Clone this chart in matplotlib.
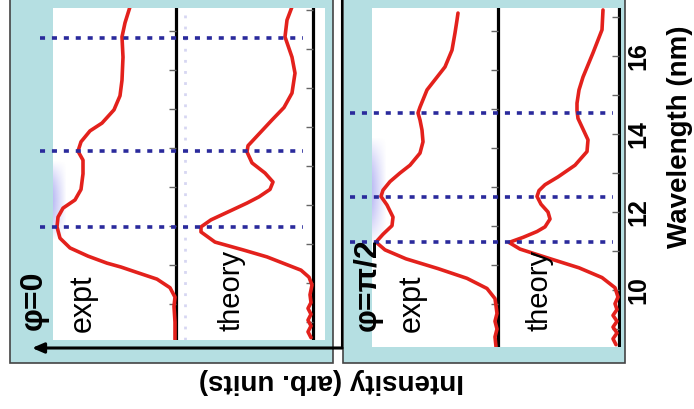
import numpy as np
import matplotlib
matplotlib.use('Agg')
import matplotlib.pyplot as plt
from matplotlib.patches import Rectangle

plt.rcParams['font.family'] = ['Liberation Sans', 'DejaVu Sans']

# phi = 0 panel (wavelength in nm, intensity in arb. units)
wl_expt0 = [8.55, 9.0, 9.4, 9.64, 9.88, 10.10, 10.28, 10.41, 10.51, 10.69, 10.90, 11.15,
            11.44, 11.69, 11.92, 12.13, 12.40, 12.80, 13.15, 13.38, 13.62, 13.90, 14.10,
            14.44, 14.80, 15.20, 15.79, 16.31, 16.67, 17.08]
int_expt0 = [0.01, 0.01, 0.02, 0.01, 0.06, 0.19, 0.40, 0.55, 0.69, 0.88, 1.06, 1.16,
             1.19, 1.18, 1.13, 1.01, 0.95, 0.93, 0.93, 0.98, 0.95, 0.86, 0.74,
             0.62, 0.56, 0.54, 0.53, 0.54, 0.51, 0.46]
wl_theory0 = [8.6, 8.75, 8.9, 9.05, 9.2, 9.35, 9.5, 9.7, 9.95, 10.15, 10.33, 10.51, 10.67,
              10.85, 11.05, 11.31, 11.44, 11.62, 11.87, 12.05, 12.21, 12.40, 12.59, 12.82,
              13.08, 13.36, 13.52, 13.85, 14.18, 14.50, 14.87, 15.38, 15.79, 16.31, 16.74,
              17.08]
int_theory0 = [0.02, 0.05, 0.02, 0.05, 0.02, 0.05, 0.02, 0.03, 0.01, 0.04, 0.12, 0.30, 0.46,
               0.70, 0.98, 1.12, 1.12, 1.02, 0.81, 0.66, 0.54, 0.43, 0.40, 0.48,
               0.61, 0.66, 0.65, 0.53, 0.41, 0.29, 0.21, 0.18, 0.21, 0.28, 0.26,
               0.21]
dips0 = [11.44, 13.38, 16.28]

# phi = pi/2 panel
wl_expt90 = [8.55, 8.8, 9.0, 9.2, 9.4, 9.6, 9.78, 10.04, 10.30, 10.55, 10.80, 11.03, 11.23,
             11.43, 11.65, 11.87, 12.18, 12.40, 12.56, 12.78, 13.0, 13.20, 13.51, 13.80,
             14.10, 14.36, 14.54, 14.69, 15.13, 15.72, 16.15, 16.59, 16.92, 17.10]
int_expt90 = [0.02, 0.03, 0.01, 0.03, 0.01, 0.02, 0.03, 0.11, 0.31, 0.60, 0.92, 1.13, 1.22,
              1.15, 1.06, 1.05, 1.11, 1.17, 1.15, 1.08, 0.98, 0.88, 0.78, 0.75,
              0.76, 0.78, 0.80, 0.78, 0.71, 0.53, 0.46, 0.43, 0.41, 0.40]
wl_theory90 = [8.6, 8.75, 8.9, 9.05, 9.2, 9.35, 9.5, 9.65, 9.82, 10.06, 10.32, 10.57, 10.82,
               11.05, 11.22, 11.35, 11.50, 11.62, 11.82, 12.0, 12.20, 12.40, 12.55, 12.70,
               12.90, 13.20, 13.55, 13.85, 14.18, 14.40, 14.60, 14.79, 15.13, 15.46, 16.08,
               16.67, 17.18]
int_theory90 = [0.03, 0.06, 0.02, 0.06, 0.02, 0.06, 0.02, 0.04, 0.01, 0.04, 0.17, 0.40, 0.71,
                0.99, 1.10, 0.96, 0.82, 0.74, 0.69, 0.71, 0.78, 0.82, 0.80, 0.74,
                0.61, 0.44, 0.32, 0.31, 0.37, 0.41, 0.42, 0.42, 0.40, 0.36, 0.26,
                0.17, 0.16]
dips90 = [11.23, 12.38, 14.54]

wl_labels = [10, 12, 14, 16]
theory_ticks = [9, 10, 11, 12, 13, 14, 15, 16, 17]
expt_ticks0 = [9.45, 10.45, 11.45, 12.45, 13.45, 14.45, 15.45, 16.45]
expt_ticks90 = [9.63, 10.63, 11.63, 12.63, 13.63, 14.63, 15.63, 16.63]

W, H = 694, 409
fig = plt.figure(figsize=(W / 100, H / 100), dpi=100)


def px_box(x0, y0, x1, y1):
    return [x0 / W, 1 - y1 / H, (x1 - x0) / W, (y1 - y0) / H]


def ftext(x, y, s, **kw):
    fig.text(x / W, 1 - y / H, s, ha='center', va='center', **kw)


# background: cyan frames and intensity arrow, in pixel units
bg = fig.add_axes([0, 0, 1, 1])
bg.set_xlim(0, W)
bg.set_ylim(H, 0)
bg.axis('off')
for x0, x1 in [(10, 333), (343, 625)]:
    bg.add_patch(Rectangle((x0, -5), x1 - x0, 368, fc='#b5dfe2', ec='#444444', lw=1.2))
bg.plot([342, 342], [0, 348], color='k', lw=1.5)
bg.annotate('', xy=(32, 348), xytext=(342, 348),
            arrowprops=dict(arrowstyle='-|>,head_length=0.7,head_width=0.3', color='k',
                            lw=2.2, shrinkA=0, shrinkB=0))

ax0 = fig.add_axes(px_box(53, 8, 325, 340))
ax1 = fig.add_axes(px_box(372, 8, 621, 347))


def haze(ax, extent):
    ny, nx = 40, 12
    img = np.zeros((ny, nx, 4))
    img[..., 0] = 0.50
    img[..., 1] = 0.50
    img[..., 2] = 0.92
    fx = np.linspace(1, 0, nx)[None, :]
    fy = np.sin(np.linspace(0, np.pi, ny))[:, None]
    img[..., 3] = 0.5 * fx * fy
    ax.imshow(img, extent=extent, transform=ax.transAxes, aspect='auto',
              interpolation='bilinear', zorder=1)


def draw_panel(ax, wl_e, i_e, wl_t, i_t, dips, offset, xlim, ylim, e_ticks, dash_span):
    for x in (0, offset):
        ax.axvline(x, color='k', lw=2.3, zorder=3)
    ax.hlines(theory_ticks, 0, 0.07, color='#666666', lw=1, zorder=3)
    ax.hlines(e_ticks, offset, offset + 0.07, color='#666666', lw=1, zorder=3)
    ax.plot(np.array(i_e) + offset, wl_e, color='#e3211c', lw=2.6, zorder=4,
            solid_joinstyle='round', solid_capstyle='round')
    ax.plot(i_t, wl_t, color='#e3211c', lw=2.6, zorder=4,
            solid_joinstyle='round', solid_capstyle='round')
    ax.hlines(dips, dash_span[0], dash_span[1], colors='#2a2a9c', lw=2.6,
              linestyles=(0, (1.4, 1.9)), zorder=5, clip_on=False)
    ax.set_xlim(*xlim)
    ax.set_ylim(*ylim)
    ax.set_facecolor('white')
    for s in ax.spines.values():
        s.set_visible(False)
    ax.set_xticks([])
    ax.set_yticks([])


haze(ax0, [0, 0.05, 0.30, 0.54])
haze(ax1, [0, 0.06, 0.30, 0.62])
draw_panel(ax0, wl_expt0, int_expt0, wl_theory0, int_theory0, dips0, 1.37,
           (2.60, -0.12), (8.54, 17.05), expt_ticks0, (2.73, 0.10))
draw_panel(ax1, wl_expt90, int_expt90, wl_theory90, int_theory90, dips90, 1.21,
           (2.47, -0.02), (8.54, 17.23), expt_ticks90, (2.69, 0.06))
ax0.axvline(1.28, color='#9a9ae0', lw=2, ls=(0, (1, 3)), alpha=0.4, zorder=2)

ax1.yaxis.tick_right()
ax1.set_yticks(wl_labels)
ax1.set_yticklabels([str(v) for v in wl_labels], rotation=90, va='center',
                    fontsize=18, fontweight='bold')
ax1.tick_params(axis='y', length=0, pad=4)

ftext(34, 300, 'φ=0', rotation=90, fontsize=23, fontweight='bold')
ftext(368, 285, 'φ=π/2', rotation=90, fontsize=23, fontweight='bold')
ftext(83, 303, 'expt', rotation=90, fontsize=22)
ftext(412, 303, 'expt', rotation=90, fontsize=22)
ftext(232, 290, 'theory', rotation=90, fontsize=21)
ftext(540, 290, 'theory', rotation=90, fontsize=21)
ftext(680, 137, 'Wavelength (nm)', rotation=90, fontsize=20, fontweight='bold')
ftext(331, 381, 'Intensity (arb. units)', rotation=180, fontsize=20, fontweight='bold')

fig.savefig('out.png', dpi=100)
